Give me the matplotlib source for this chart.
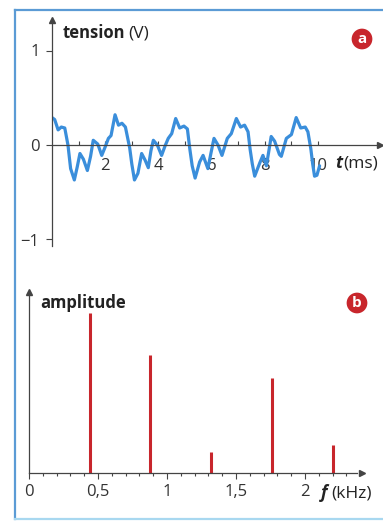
import matplotlib.pyplot as plt
from matplotlib.lines import Line2D

# signal (t in ms, tension in V)
t_ms = [0.00, 0.10, 0.23, 0.35, 0.48, 0.60, 0.70, 0.84, 0.95, 1.05, 1.18, 1.33,
        1.45, 1.55, 1.72, 1.87, 2.00, 2.12, 2.22, 2.37, 2.50, 2.63, 2.76, 2.92,
        3.00, 3.10, 3.23, 3.37, 3.50, 3.62, 3.72, 3.81, 3.96, 4.12, 4.25, 4.37,
        4.50, 4.65, 4.80, 4.96, 5.09, 5.18, 5.27, 5.38, 5.55, 5.68, 5.86, 5.98,
        6.09, 6.24, 6.39, 6.59, 6.74, 6.93, 7.09, 7.24, 7.37, 7.45, 7.53, 7.62,
        7.81, 7.93, 8.06, 8.16, 8.24, 8.37, 8.55, 8.62, 8.81, 9.00, 9.18, 9.35,
        9.52, 9.62, 9.73, 9.80, 9.87, 9.96, 10.06]
u_V = [0.29, 0.27, 0.16, 0.19, 0.18, 0.00, -0.25, -0.37, -0.23, -0.09, -0.15, -0.27,
       -0.12, 0.05, 0.01, -0.11, -0.02, 0.07, 0.10, 0.32, 0.21, 0.23, 0.19, -0.03,
       -0.20, -0.37, -0.30, -0.09, -0.16, -0.24, -0.06, 0.05, 0.00, -0.11, -0.01, 0.07,
       0.12, 0.28, 0.18, 0.20, 0.17, -0.04, -0.22, -0.35, -0.18, -0.11, -0.25, -0.08,
       0.07, 0.00, -0.11, 0.07, 0.12, 0.28, 0.19, 0.21, 0.14, -0.05, -0.20, -0.33,
       -0.19, -0.11, -0.22, -0.05, 0.09, 0.04, -0.10, -0.12, 0.07, 0.11, 0.29, 0.18,
       0.19, 0.14, -0.04, -0.20, -0.33, -0.32, -0.22]

# spectrum, panel b
freqs_kHz = [0.44, 0.88, 1.32, 1.76, 2.20]
amps = [160, 118, 21, 95, 28]

plt.rcParams['font.family'] = ['Open Sans', 'DejaVu Sans']

W, H = 383, 523
blue = '#3a8edb'
red = '#c8262c'
axc = '#444444'


def fx(px):
    return px / W


def fy(py):
    return 1 - py / H


fig = plt.figure(figsize=(W / 100, H / 100), dpi=100)

# ---- panel a
ax1 = fig.add_axes([fx(52), fy(246), (380 - 52) / W, (246 - 20) / H])
ax1.set_xlim(0, 328 / 26.6)
ax1.set_ylim(-101 / 94.5, 125 / 94.5)
ax1.plot(t_ms, u_V, color=blue, lw=2.3, solid_joinstyle='round', solid_capstyle='round')
for s in ['top', 'right']:
    ax1.spines[s].set_visible(False)
ax1.spines['bottom'].set_position(('data', 0))
ax1.spines['left'].set_bounds(-101 / 94.5, 1.29)
for s in ['left', 'bottom']:
    ax1.spines[s].set_color(axc)
    ax1.spines[s].set_linewidth(0.9)
ax1.plot(1, 0, '>', color=axc, ms=5, transform=ax1.get_yaxis_transform(), clip_on=False)
ax1.plot(0, 1, '^', color=axc, ms=5, transform=ax1.get_xaxis_transform(), clip_on=False)
ax1.set_xticks(range(1, 11))
ax1.set_xticklabels(['', '2', '', '4', '', '6', '', '8', '', '10'])
ax1.set_yticks([-1, 0, 1])
ax1.set_yticklabels(['\u22121', '0', '1'])
ax1.tick_params(axis='x', direction='in', length=3, width=0.8, color=axc, pad=9,
                labelsize=12, labelcolor='#333333')
ax1.tick_params(axis='y', direction='out', length=4, width=0.8, color=axc, pad=5,
                labelsize=12, labelcolor='#333333')
ax1.patch.set_visible(False)

fig.text(fx(63), fy(33), 'tension', fontsize=12, fontweight='bold', color='#222222', va='center')
fig.text(fx(128), fy(33), '(V)', fontsize=12.5, color='#222222', va='center')
fig.text(fx(335), fy(163), 't', fontsize=12.5, fontweight='bold', style='italic', color='#222222', va='center')
fig.text(fx(343), fy(163), '(ms)', fontsize=12.5, color='#222222', va='center')

# ---- panel b
ax2 = fig.add_axes([fx(29), fy(473), (362 - 29) / W, (473 - 292) / H])
ax2.set_xlim(0, 333 / 138)
ax2.set_ylim(0, 181)
ax2.vlines(freqs_kHz, 0, amps, color=red, lw=2.2)
for s in ['top', 'right']:
    ax2.spines[s].set_visible(False)
ax2.spines['bottom'].set_bounds(0, 2.38)
for s in ['left', 'bottom']:
    ax2.spines[s].set_color(axc)
    ax2.spines[s].set_linewidth(0.9)
ax2.plot(1, 0, '>', color=axc, ms=5, transform=ax2.transAxes, clip_on=False)
ax2.plot(0, 1, '^', color=axc, ms=5, transform=ax2.transAxes, clip_on=False)
ax2.set_yticks([])
ax2.set_xticks([0, 0.5, 1, 1.5, 2])
ax2.set_xticklabels(['0', '0,5', '1', '1,5', '2'])
ax2.set_xticks([i / 10 for i in range(24)], minor=True)
ax2.tick_params(axis='x', which='major', direction='out', length=4, width=0.8, color=axc,
                pad=4, labelsize=12, labelcolor='#333333')
ax2.tick_params(axis='x', which='minor', direction='out', length=2.5, width=0.8, color=axc)
ax2.patch.set_visible(False)

fig.text(fx(40), fy(303), 'amplitude', fontsize=12, fontweight='bold', color='#222222', va='center')
fig.text(fx(321), fy(493), 'f', fontsize=12.5, fontweight='bold', style='italic', color='#222222', va='center')
fig.text(fx(331), fy(493), '(kHz)', fontsize=12.5, color='#222222', va='center')

# badges
for lab, (px, py) in [('a', (362, 39)), ('b', (357, 303))]:
    fig.text(fx(px), fy(py), lab, fontsize=11, fontweight='bold', color='white',
             ha='center', va='center',
             bbox=dict(boxstyle='circle,pad=0.22', fc=red, ec='none'))

# frame
fig.add_artist(Line2D([fx(15), fx(15)], [fy(10), fy(519)], color='#5b9bd5', lw=1.6))
fig.add_artist(Line2D([fx(15), fx(383)], [fy(10), fy(10)], color='#5b9bd5', lw=1.6))
fig.add_artist(Line2D([fx(15), fx(383)], [fy(519), fy(519)], color='#a8d8f0', lw=1.6))

fig.savefig('out.png', dpi=100)
